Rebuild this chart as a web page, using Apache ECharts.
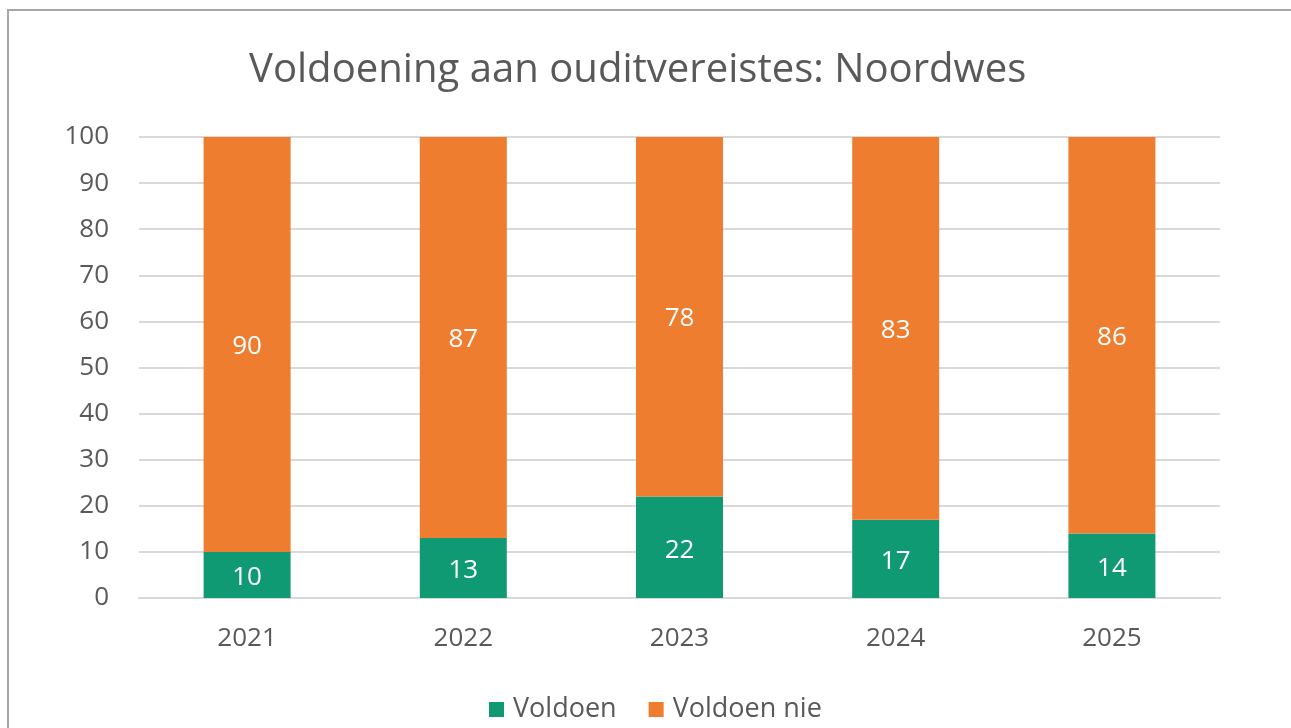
<!DOCTYPE html>
<html>
<head>
<meta charset="utf-8">
<script src="https://cdn.jsdelivr.net/npm/echarts@6/dist/echarts.min.js"></script>
<style>
html,body{margin:0;padding:0;background:#fff;overflow:hidden;}
#chart{width:1291px;height:728px;}
</style>
</head>
<body>
<div id="chart"></div>
<script>
const years = ['2021', '2022', '2023', '2024', '2025'];
const voldoen = [10, 13, 22, 17, 14];
const voldoenNie = [90, 87, 78, 83, 86];
const yTicks = { min: 0, max: 100, interval: 10 };

const chart = echarts.init(document.getElementById('chart'));
const textColor = '#595959';
const font = 'Open Sans';
chart.setOption({
  backgroundColor: '#ffffff',
  animation: false,
  graphic: [
    { type: 'line', shape: { x1: 7, y1: 10, x2: 1291, y2: 10 },
      style: { stroke: '#a6a6a6', lineWidth: 2 }, silent: true },
    { type: 'line', shape: { x1: 8, y1: 9, x2: 8, y2: 728 },
      style: { stroke: '#a6a6a6', lineWidth: 2 }, silent: true }
  ],
  title: {
    text: 'Voldoening aan ouditvereistes: Noordwes',
    left: 244, top: 46,
    textStyle: { fontFamily: font, fontSize: 40.1, fontWeight: 'normal', color: textColor }
  },
  legend: {
    data: ['Voldoen', 'Voldoen nie'],
    left: 484, top: 691,
    itemWidth: 15, itemHeight: 15, itemGap: 32,
    icon: 'rect',
    textStyle: { fontFamily: font, fontSize: 27, color: textColor, padding: [0, 0, 0, 4] }
  },
  grid: { left: 139, right: 71, top: 137, bottom: 130, containLabel: false },
  xAxis: {
    type: 'category', data: years,
    axisLine: { lineStyle: { color: '#d9d9d9', width: 2 } },
    axisTick: { show: false },
    axisLabel: { fontFamily: font, fontSize: 26, color: textColor, margin: 28 }
  },
  yAxis: {
    type: 'value', min: yTicks.min, max: yTicks.max, interval: yTicks.interval,
    axisLine: { show: false },
    axisTick: { show: false },
    splitLine: { lineStyle: { color: '#d9d9d9', width: 2 } },
    axisLabel: { fontFamily: font, fontSize: 26, color: textColor, margin: 30 }
  },
  series: [
    {
      name: 'Voldoen', type: 'bar', stack: 'total', data: voldoen,
      barWidth: 87,
      itemStyle: { color: '#109a74' },
      label: { show: true, position: 'inside', color: '#ffffff', fontFamily: font, fontSize: 26, offset: [0, 3] }
    },
    {
      name: 'Voldoen nie', type: 'bar', stack: 'total', data: voldoenNie,
      barWidth: 87,
      itemStyle: { color: '#ee7d30' },
      label: { show: true, position: 'inside', color: '#ffffff', fontFamily: font, fontSize: 26, offset: [0, 2] }
    }
  ]
});
</script>
</body>
</html>
